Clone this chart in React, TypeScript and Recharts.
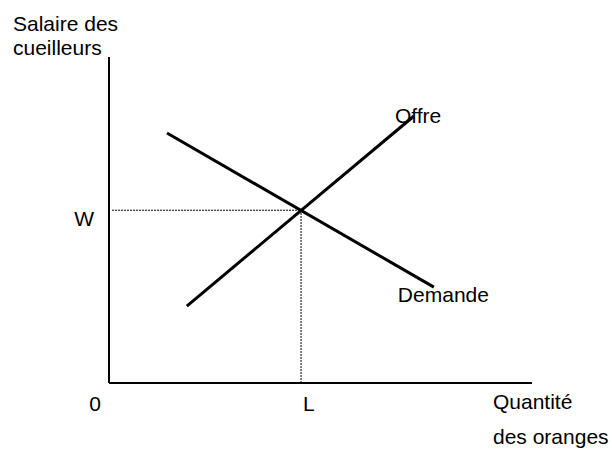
import { LabelList, Line, LineChart, ReferenceLine, XAxis, YAxis } from 'recharts';

// Stylised labour market for orange pickers — axes in arbitrary 0..100 units.
const offreX = [18.4, 72.1];
const offreY = [23.6, 81.9];
const demandeX = [13.7, 76.8];
const demandeY = [76.7, 29.4];
const eqL = 45.4;
const eqW = 53;
const xTicks = [0, eqL];
const xTickLabels = ['0', 'L'];
const yTicks = [eqW];
const yTickLabels = ['W'];
const seriesNames = ['Offre', 'Demande'];
const yTitle = ['Salaire des', 'cueilleurs'];
const xTitle = ['Quantité', 'des oranges'];

const offre = offreX.map((x, i) => ({ x, y: offreY[i] }));
const demande = demandeX.map((x, i) => ({ x, y: demandeY[i] }));

const FONT = '"Liberation Sans", Arial, sans-serif';
const FS = 21;

const XTick = (p: any) => {
  const i = xTicks.indexOf(p.payload.value);
  const first = i === 0;
  return (
    <text
      x={first ? p.x - 14 : p.x + 2}
      y={383 + 28}
      textAnchor={first ? 'middle' : 'start'}
      fontFamily={FONT}
      fontSize={FS}
      fill="#000"
    >
      {xTickLabels[i]}
    </text>
  );
};

const YTick = (p: any) => {
  const i = yTicks.indexOf(p.payload.value);
  return (
    <text x={109 - 15} y={p.y + 16} textAnchor="end" fontFamily={FONT} fontSize={FS} fill="#000">
      {yTickLabels[i]}
    </text>
  );
};

const endLabel = (name: string, dx: number, dy: number) => (p: any) =>
  p.index === 1 ? (
    <text x={p.x + dx} y={p.y + dy} fontFamily={FONT} fontSize={FS} fill="#000">
      {name}
    </text>
  ) : null;

export default function App() {
  return (
    <div style={{ position: 'absolute', left: 0, top: 0, width: 612, height: 450, background: '#fff' }}>
      <LineChart width={612} height={450} margin={{ top: 57, right: 80, bottom: 66, left: 108 }}>
        <XAxis
          type="number"
          dataKey="x"
          domain={[0, 100]}
          ticks={xTicks}
          interval={0}
          height={1}
          tickLine={false}
          tickSize={0}
          tickMargin={0}
          tick={<XTick />}
          axisLine={{ stroke: '#000', strokeWidth: 2 }}
          allowDataOverflow
        />
        <YAxis
          type="number"
          domain={[0, 100]}
          ticks={yTicks}
          interval={0}
          width={1}
          tickLine={false}
          tickSize={0}
          tickMargin={0}
          tick={<YTick />}
          axisLine={{ stroke: '#000', strokeWidth: 2 }}
          allowDataOverflow
        />
        <ReferenceLine
          segment={[{ x: 0.7, y: eqW }, { x: eqL, y: eqW }]}
          stroke="#000"
          strokeWidth={1}
          strokeDasharray="2 1"
        />
        <ReferenceLine
          segment={[{ x: eqL, y: 0 }, { x: eqL, y: eqW }]}
          stroke="#000"
          strokeWidth={1}
          strokeDasharray="2 1"
        />
        <Line
          data={offre}
          dataKey="y"
          type="linear"
          stroke="#000"
          strokeWidth={3}
          dot={false}
          isAnimationActive={false}
        >
          <LabelList dataKey="y" content={endLabel(seriesNames[0], -19, 7)} />
        </Line>
        <Line
          data={demande}
          dataKey="y"
          type="linear"
          stroke="#000"
          strokeWidth={3}
          dot={false}
          isAnimationActive={false}
        >
          <LabelList dataKey="y" content={endLabel(seriesNames[1], -36, 15)} />
        </Line>
      </LineChart>
      {/* Axis titles sit outside the plot area, so they go in a plain overlay. */}
      <svg width={612} height={450} style={{ position: 'absolute', left: 0, top: 0, pointerEvents: 'none' }}>
        <g fontFamily={FONT} fontSize={FS} fill="#000">
          <text x={13} y={31}>{yTitle[0]}</text>
          <text x={13} y={55}>{yTitle[1]}</text>
          <text x={493} y={409}>{xTitle[0]}</text>
          <text x={493} y={444}>{xTitle[1]}</text>
        </g>
      </svg>
    </div>
  );
}
